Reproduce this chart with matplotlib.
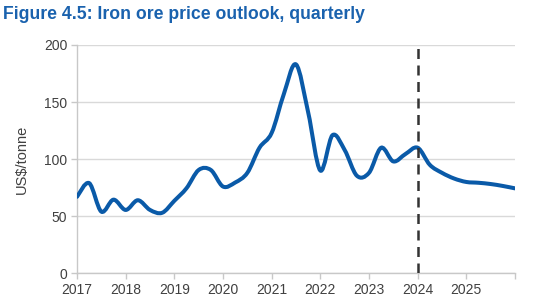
"""Iron ore price outlook, quarterly (Figure 4.5)."""

import matplotlib

matplotlib.use("Agg")

import matplotlib.pyplot as plt  # noqa: E402
from matplotlib.path import Path  # noqa: E402
from matplotlib.patches import PathPatch  # noqa: E402

# ---------------------------------------------------------------------------
# Data (US$/tonne, quarterly, 2017 Q1 onward)
# ---------------------------------------------------------------------------
START_YEAR = 2017
QUARTER_STEP = 0.25
PRICES = [
    67, 79, 54, 64.5, 55.5, 64, 55.5, 53,      # 2017-2018
    63.5, 74.5, 90.5, 90.5, 76, 79.5, 88, 110, # 2019-2020
    123, 157, 183, 141, 90, 121, 108, 85.5,    # 2021-2022
    88, 110, 98, 104.5, 110, 95, 88, 83,       # 2023-2024
    80, 79.3, 78.2, 76.5, 74.4,                # 2025-2026
]
FORECAST_START = 2024
YEAR_TICKS = list(range(2017, 2027))
YEAR_LABELS = [str(y) for y in range(2017, 2026)] + [""]
Y_TICKS = [0, 50, 100, 150, 200]

LINE_BLUE = "#0a5aa8"
TITLE_BLUE = "#1a62ae"
GRID_GREY = "#d9d9d9"
TEXT_GREY = "#404040"


def smooth_path(xs, ys):
    # Excel-style smoothed line: cubic Bezier through every point
    verts = [(xs[0], ys[0])]
    codes = [Path.MOVETO]
    n = len(xs)
    for i in range(n - 1):
        x0, y0 = (xs[i - 1], ys[i - 1]) if i > 0 else (xs[i], ys[i])
        x1, y1 = xs[i], ys[i]
        x2, y2 = xs[i + 1], ys[i + 1]
        x3, y3 = (xs[i + 2], ys[i + 2]) if i + 2 < n else (x2, y2)
        c1 = (x1 + (x2 - x0) / 6, y1 + (y2 - y0) / 6)
        c2 = (x2 - (x3 - x1) / 6, y2 - (y3 - y1) / 6)
        verts += [c1, c2, (x2, y2)]
        codes += [Path.CURVE4] * 3
    return Path(verts, codes)


def main() -> None:
    plt.rcParams["font.family"] = ["Liberation Sans", "DejaVu Sans"]
    fig = plt.figure(figsize=(5.34, 3.06), dpi=100)
    ax = fig.add_axes([0.1442, 0.1069, 0.8202, 0.7461])

    xs = [START_YEAR + QUARTER_STEP * i for i in range(len(PRICES))]
    ax.add_patch(
        PathPatch(
            smooth_path(xs, PRICES),
            facecolor="none",
            edgecolor=LINE_BLUE,
            linewidth=2.9,
            capstyle="round",
            joinstyle="round",
            zorder=3,
        )
    )
    ax.axvline(
        FORECAST_START,
        color="#333333",
        linewidth=1.8,
        linestyle=(0, (4, 2.6)),
        zorder=4,
    )

    ax.set_xlim(YEAR_TICKS[0], YEAR_TICKS[-1])
    ax.set_ylim(0, 200)
    ax.set_xticks(YEAR_TICKS)
    ax.set_xticklabels(YEAR_LABELS)
    ax.set_yticks(Y_TICKS)
    ax.yaxis.grid(True, color=GRID_GREY, linewidth=1.0)
    ax.set_axisbelow(True)

    for side in ("top", "right"):
        ax.spines[side].set_visible(False)
    for side in ("left", "bottom"):
        ax.spines[side].set_color("#c8c8c8")
        ax.spines[side].set_linewidth(1.0)
    ax.tick_params(
        axis="both",
        direction="out",
        length=4,
        width=1.0,
        color="#c8c8c8",
        labelcolor=TEXT_GREY,
        labelsize=10,
        pad=3,
    )
    ax.set_ylabel("US$/tonne", fontsize=10.5, color=TEXT_GREY, labelpad=11)

    fig.text(
        0.006,
        0.953,
        "Figure 4.5: Iron ore price outlook, quarterly",
        fontsize=12.7,
        fontweight="bold",
        color=TITLE_BLUE,
        ha="left",
        va="center",
    )

    fig.savefig("out.png", dpi=100)
    plt.close(fig)


if __name__ == "__main__":
    main()
